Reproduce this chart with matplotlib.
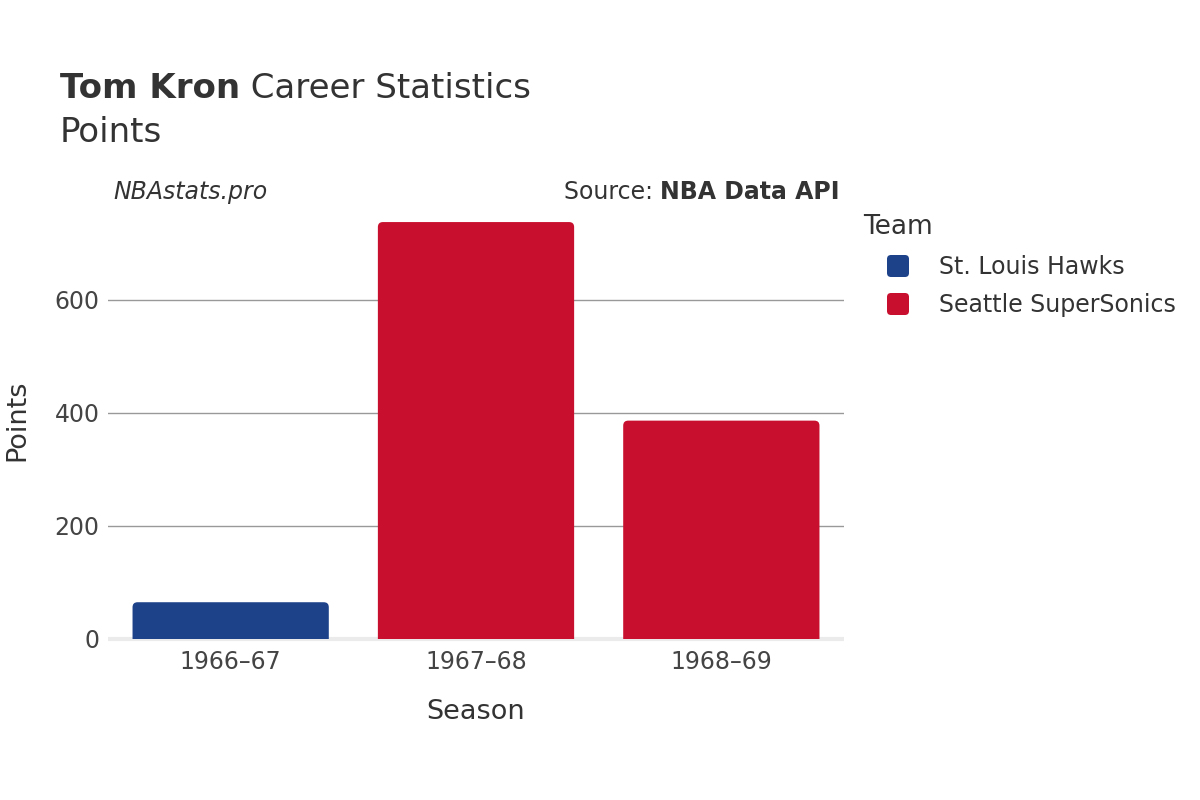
import matplotlib
matplotlib.use("Agg")
import matplotlib.pyplot as plt
from matplotlib.patches import FancyBboxPatch
import numpy as np

plt.rcParams["font.family"] = ["DejaVu Sans"]

seasons = ["1966–67", "1967–68", "1968–69"]
points = [65, 737, 386]
teams = ["St. Louis Hawks", "Seattle SuperSonics", "Seattle SuperSonics"]
team_colors = {"St. Louis Hawks": "#1D428A", "Seattle SuperSonics": "#C8102E"}
y_ticks = [0, 200, 400, 600]

W, H = 1200, 800
fig = plt.figure(figsize=(12, 8), dpi=100)
ax = fig.add_axes([108 / W, 1 - 639 / H, (844 - 108) / W, (639 - 200) / H])

x = np.arange(len(seasons))
ymax = 776
ax.set_xlim(-0.5, len(seasons) - 0.5)
ax.set_ylim(0, ymax)

# rounded top corners: x units per px vs y units per px
xpp = len(seasons) / (844 - 108)
ypp = ymax / (639 - 200)
r = 5 * xpp
aspect = ypp / xpp
for xi, v, t in zip(x, points, teams):
    p = FancyBboxPatch((xi - 0.4, -20), 0.8, v + 20,
                       boxstyle=f"round,pad=0,rounding_size={r}",
                       mutation_aspect=aspect, fc=team_colors[t], ec="none",
                       zorder=3)
    ax.add_patch(p)

ax.set_yticks(y_ticks)
ax.set_xticks(x)
ax.set_xticklabels(seasons)
ax.grid(axis="y", color="#999999", lw=1, zorder=0)
ax.axhline(0, color="#ebebeb", lw=3, zorder=2, clip_on=False, solid_capstyle="butt")
for s in ax.spines.values():
    s.set_visible(False)
ax.tick_params(length=0, labelsize=17, labelcolor="#444444")
ax.tick_params(axis="y", pad=6)
ax.tick_params(axis="x", pad=8)

def fx(px):
    return px / W

def fy(py):
    return 1 - py / H

tc = "#333333"
t1 = fig.text(fx(60), fy(88), "Tom Kron", fontsize=24.5, fontweight="bold", color=tc, va="center")
# measure bold part to place the rest
fig.canvas.draw()
rend = fig.canvas.get_renderer()
bb = t1.get_window_extent(rend)
fig.text(bb.x1 / W, fy(88), " Career Statistics", fontsize=24.5, color=tc, va="center")
fig.text(fx(60), fy(132), "Points", fontsize=24.5, color=tc, va="center")

fig.text(fx(113), fy(192), "NBAstats.pro", fontsize=17, style="italic", color=tc, va="center")
t2 = fig.text(fx(840), fy(192), "NBA Data API", fontsize=17, fontweight="bold", color=tc,
              va="center", ha="right")
bb2 = t2.get_window_extent(rend)
fig.text(bb2.x0 / W, fy(192), "Source: ", fontsize=17, color=tc, va="center", ha="right")

fig.text(fx(476), fy(712), "Season", fontsize=19.5, color=tc, va="center", ha="center")
fig.text(fx(17), fy(420), "Points", fontsize=19.5, color=tc, va="center", ha="center",
         rotation=90)

# legend
fig.text(fx(863), fy(227), "Team", fontsize=19, color=tc, va="center")
legend_teams = list(dict.fromkeys(teams))
for i, t in enumerate(legend_teams):
    cy = 266 + i * 38
    sq = FancyBboxPatch((fx(887), fy(cy + 11)), 22 / W, 22 / H,
                        boxstyle=f"round,pad=0,rounding_size={4 / W}",
                        mutation_aspect=W / H, transform=fig.transFigure,
                        fc=team_colors[t], ec="none")
    fig.patches.append(sq)
    fig.text(fx(939), fy(cy + 1), t, fontsize=17, color=tc, va="center")

fig.savefig("out.png", dpi=100)
